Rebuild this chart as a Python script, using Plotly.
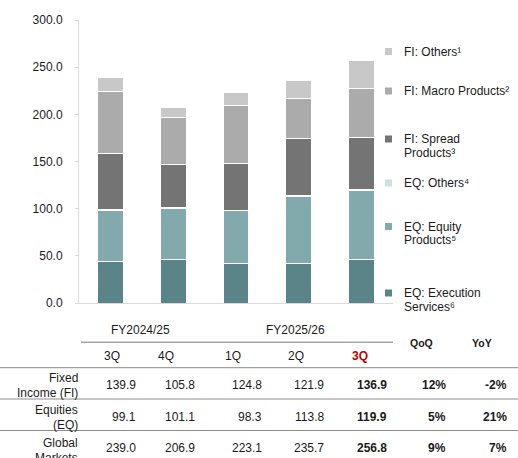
import plotly.graph_objects as go

# ---------------- data ----------------
quarters = ["3Q", "4Q", "1Q", "2Q", "3Q"]
fiscal_years = ["FY2024/25", "FY2025/26"]

eq_exec = [43.8, 45.9, 42.4, 41.7, 45.9]
eq_equity = [54.4, 54.1, 55.4, 71.0, 73.5]
eq_others = [0.9, 1.1, 0.5, 1.1, 0.5]
fi_spread = [59.2, 46.2, 49.4, 60.4, 55.4]
fi_macro = [66.1, 49.2, 61.5, 42.4, 51.6]
fi_others = [14.6, 10.4, 13.9, 19.1, 29.9]

fi_total = [139.9, 105.8, 124.8, 121.9, 136.9]
eq_total = [99.1, 101.1, 98.3, 113.8, 119.9]
gm_total = [239.0, 206.9, 223.1, 235.7, 256.8]
qoq = ["12%", "5%", "9%"]
yoy = ["-2%", "21%", "7%"]

series = [
    ("EQ: Execution Services⁶", eq_exec, "#5b8488"),
    ("EQ: Equity Products⁵", eq_equity, "#82aaac"),
    ("EQ: Others⁴", eq_others, "#cfe0e1"),
    ("FI: Spread Products³", fi_spread, "#747474"),
    ("FI: Macro Products²", fi_macro, "#ababab"),
    ("FI: Others¹", fi_others, "#c8c8c8"),
]

FONT = "Arial, 'Liberation Sans', sans-serif"
W, H = 518, 458
L, R, T, B = 79, 393, 20, 303


def px(x):
    return (x - L) / (R - L)


def py(y):
    return (B - y) / (B - T)


xs = list(range(len(quarters)))
fig = go.Figure()
for name, vals, col in series:
    fig.add_trace(go.Bar(x=xs, y=vals, name=name, marker=dict(color=col, line=dict(color="white", width=1)),
                         width=0.41, showlegend=False, hoverinfo="y"))

annotations = []
shapes = []

# legend (custom placement)
legend_items = [
    (["FI: Others¹"], "#c8c8c8", 51.5),
    (["FI: Macro Products²"], "#ababab", 91),
    (["FI: Spread", "Products³"], "#747474", 139),
    (["EQ: Others⁴"], "#cfe0e1", 183),
    (["EQ: Equity", "Products⁵"], "#82aaac", 226.5),
    (["EQ: Execution", "Services⁶"], "#5b8488", 293),
]
for lines, col, y in legend_items:
    shapes.append(dict(type="rect", xref="paper", yref="paper", x0=px(385), x1=px(392), y0=py(y + 3.5), y1=py(y - 3.5),
                       fillcolor=col, line=dict(width=0)))
    for i, t in enumerate(lines):
        annotations.append(dict(text=t, xref="paper", yref="paper", x=px(402), y=py(y + i * 13.8), xanchor="left",
                                yanchor="middle", showarrow=False, font=dict(size=12, color="#1a1a1a", family=FONT)))


def txt(t, x, y, anchor="center", size=12, color="#1a1a1a", bold=False):
    if bold:
        t = "<b>" + t + "</b>"
    annotations.append(dict(text=t, xref="paper", yref="paper", x=px(x), y=py(y), xanchor=anchor, yanchor="middle",
                            showarrow=False, font=dict(size=size, color=color, family=FONT)))


# table header
txt(fiscal_years[0], 140, 330)
txt(fiscal_years[1], 295, 330)
q_centers = [111.5, 166, 232.5, 296, 360]
for i, q in enumerate(quarters):
    if i == len(quarters) - 1:
        txt(q, q_centers[i], 356, color="#c00000", bold=True)
    else:
        txt(q, q_centers[i], 356)
txt("QoQ", 421.5, 343, size=10.5, bold=True)
txt("YoY", 481.5, 343, size=10.5, bold=True)

shapes.append(dict(type="line", xref="paper", yref="paper", x0=px(81), x1=px(393), y0=py(342.3), y1=py(342.3),
                   line=dict(color="#a6a6a6", width=1.5)))
for yl in [367.7, 399, 430.5]:
    shapes.append(dict(type="line", xref="paper", yref="paper", x0=px(0), x1=px(518), y0=py(yl), y1=py(yl),
                       line=dict(color="#8c8c8c", width=1)))

num_right = [138, 197, 264, 326, 389]
rows = [
    (["Fixed", "Income (FI)"], fi_total, qoq[0], yoy[0], 378, 385),
    (["Equities", "(EQ)"], eq_total, qoq[1], yoy[1], 410, 417),
    (["Global", "Markets"], gm_total, qoq[2], yoy[2], 443, 448),
]
for labels, vals, q, yy, ylab, ynum in rows:
    for i, lab in enumerate(labels):
        txt(lab, 80, ylab + i * 14.6, anchor="right")
    for i, v in enumerate(vals):
        txt(f"{v:.1f}", num_right[i], ynum, anchor="right", bold=(i == len(vals) - 1))
    txt(q, 448, ynum, anchor="right", bold=True)
    txt(yy, 509, ynum, anchor="right", bold=True)

fig.update_layout(
    width=W, height=H, autosize=False,
    margin=dict(l=L, r=W - R, t=T, b=H - B, pad=0),
    barmode="stack",
    paper_bgcolor="white", plot_bgcolor="white",
    font=dict(family=FONT, size=12, color="#1a1a1a"),
    showlegend=False,
    xaxis=dict(range=[-0.5, 4.5], showticklabels=False, showgrid=False, zeroline=False, showline=True,
               linecolor="#d9d9d9", linewidth=1, ticks=""),
    yaxis=dict(range=[0, 300], dtick=50, tickformat=".1f", showgrid=False, zeroline=False, showline=True,
               linecolor="#d9d9d9", linewidth=1, ticks="outside", ticklen=3, tickcolor="#d9d9d9",
               ticklabelstandoff=10, tickfont=dict(size=12, color="#1a1a1a", family=FONT)),
    annotations=annotations,
    shapes=shapes,
)

fig.write_html("out.html")
